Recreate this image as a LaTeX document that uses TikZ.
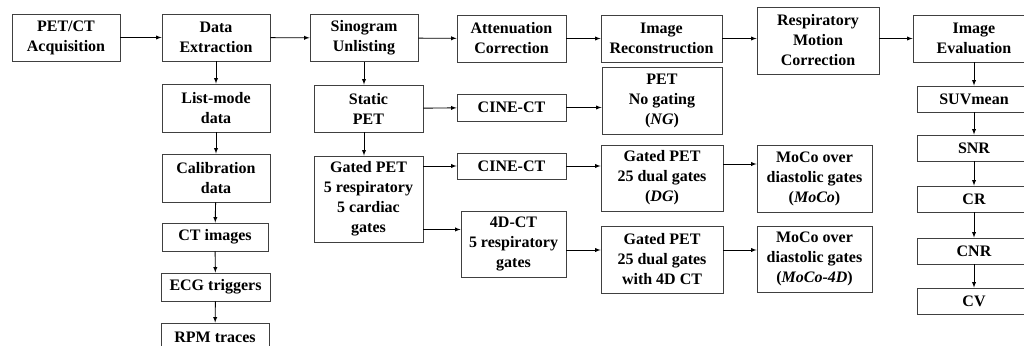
\documentclass[tikz,border=0pt]{standalone}
\usepackage{fontspec}
\setmainfont{Liberation Serif}
\usetikzlibrary{shapes}

\tikzset{box/.style={rectangle,draw=black!75,line width=0.9pt,align=center,inner sep=0pt,
    font=\bfseries\fontsize{16}{20}\selectfont},
  sz/.style 2 args={minimum width=#1pt,minimum height=#2pt}}

\begin{document}
\begin{tikzpicture}[x=1pt,y=-1pt,>=latex,line width=0.9pt]
\useasboundingbox (0,0) rectangle (1024,345);
% top row
\path (66,37.5) node[box,sz={108}{47}](acq) {PET/CT\\Acquisition}
(216,37.5) node[box,sz={108}{47}](extr) {Data\\Extraction}
(364,38) node[box,sz={108}{47}](sino) {Sinogram\\Unlisting}
(511.5,38.5) node[box,sz={109}{47}](atten) {Attenuation\\Correction}
(661.5,38.5) node[box,sz={121}{47}](recon) {Image\\Reconstruction}
(818,40.5) node[box,sz={122}{67}](resp) {Respiratory\\Motion\\Correction}
(974,38.5) node[box,sz={122}{47}](eval) {Image\\Evaluation}
;
% data column
\path (216,108) node[box,sz={108}{48}](lm) {List-mode\\data}
(216,178) node[box,sz={108}{48}](calib) {Calibration\\data}
(215,237) node[box,sz={106}{28}](ctimg) {CT images}
(215.5,287) node[box,sz={109}{28}](ecg) {ECG triggers}
(215,337) node[box,sz={108}{28}](rpm) {RPM traces}
;
% gating branches
\path (368.5,108.5) node[box,sz={109}{47}](static) {Static\\PET}
(368.5,199) node[box,sz={109}{86}](gated) {Gated PET\\5 respiratory\\5 cardiac\\gates}
(511.5,107.5) node[box,sz={109}{27}](cine_a) {CINE-CT}
(511.5,166) node[box,sz={109}{26}](cine_b) {CINE-CT}
(513.5,244) node[box,sz={105}{66}](ct4d) {4D-CT\\5 respiratory\\gates}
(662,100.5) node[box,sz={120}{67}](ng) {PET\\No gating\\(\textit{NG})}
(662,178) node[box,sz={122}{66}](dg) {Gated PET\\25 dual gates\\(\textit{DG})}
(662,259.5) node[box,sz={122}{67}](dg4d) {Gated PET\\25 dual gates\\with 4D CT}
(814.5,178.5) node[box,sz={115}{67}](moco) {MoCo over\\diastolic gates\\(\textit{MoCo})}
(814.5,259) node[box,sz={115}{66}](moco4d) {MoCo over\\diastolic gates\\(\textit{MoCo-4D})}
;
% metrics
\path (974,99) node[box,sz={114}{26}](suv) {SUVmean}
(974,148) node[box,sz={114}{26}](snr) {SNR}
(974,199) node[box,sz={114}{26}](cr) {CR}
(974,251) node[box,sz={114}{26}](cnr) {CNR}
(974,301) node[box,sz={114}{26}](cv) {CV}
;
\draw[->] (acq) -- (extr);
\draw[->] (extr) -- (sino);
\draw[->] (sino) -- (atten);
\draw[->] (atten) -- (recon);
\draw[->] (recon) -- (recon -| resp.west);
\draw[->] (recon -| resp.east) -- (recon -| eval.west);

\draw[->] (extr) -- (lm);
\draw[->] (lm) -- (calib);
\draw[->] (calib) -- (ctimg);
\draw[->] (ctimg) -- (ecg);
\draw[->] (ecg) -- (rpm);

\draw[->] (sino) -- (sino |- static.north);
\draw[->] (sino |- static.south) -- (sino |- gated.north);
\draw[->] (static) -- (cine_a);
\draw[->] (cine_a) -- (cine_a -| ng.west);
\draw[->] (cine_b -| gated.east) -- (cine_b);
\draw[->] (cine_b) -- (cine_b -| dg.west);
\draw[->] ([yshift=13pt]gated.south east) -- ([yshift=13pt]gated.south east -| ct4d.west);
\draw[->] ([yshift=-6pt]ct4d.east) -- ([yshift=-6pt]ct4d.east -| dg4d.west);
\draw[->] ([yshift=14pt]dg.east) -- ([yshift=14pt]dg.east -| moco.west);
\draw[->] ([yshift=9.5pt]dg4d.east) -- ([yshift=9.5pt]dg4d.east -| moco4d.west);

\draw[->] (eval) -- (suv);
\draw[->] (suv) -- (snr);
\draw[->] (snr) -- (cr);
\draw[->] (cr) -- (cnr);
\draw[->] (cnr) -- (cv);
\end{tikzpicture}
\end{document}
